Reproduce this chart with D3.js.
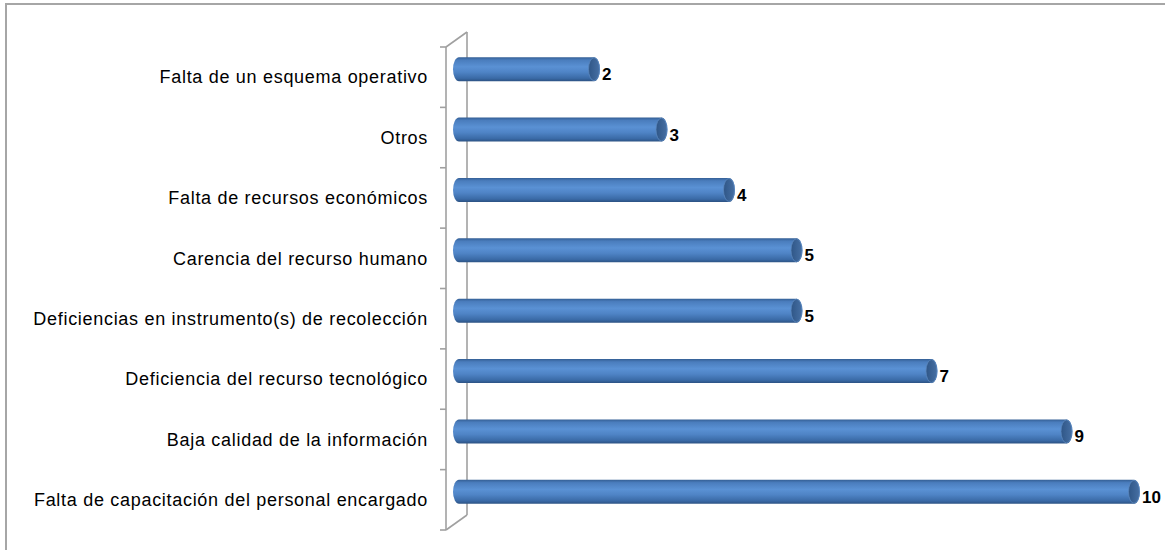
<!DOCTYPE html>
<meta charset="utf-8">
<head>
  <script type="text/javascript" src="https://cdn.jsdelivr.net/npm/d3@7/dist/d3.min.js"></script>
</head>
<style type="text/css">
  body {
    margin: 0;
    background: #fff;
    font-family: "Liberation Sans", Arial, sans-serif;
  }
  .cat { font-size: 18px; letter-spacing: 0.7px; fill: #000; }
  .val { font-size: 17px; font-weight: bold; fill: #000; }
</style>
<body></body>
<script type="text/javascript">

var categories = [
  "Falta de un esquema operativo",
  "Otros",
  "Falta de recursos económicos",
  "Carencia del recurso humano",
  "Deficiencias en instrumento(s) de recolección",
  "Deficiencia del recurso tecnológico",
  "Baja calidad de la información",
  "Falta de capacitación del personal encargado"
];
var values = [2, 3, 4, 5, 5, 7, 9, 10];

var width = 1165,
    height = 550;

var svg = d3.select("body").append("svg")
    .attr("width", width)
    .attr("height", height);

// outer chart frame (runs off the right and bottom edge)
svg.append("rect")
    .attr("x", 6).attr("y", 4)
    .attr("width", width + 10).attr("height", height + 10)
    .attr("fill", "none")
    .attr("stroke", "#a6a6a6")
    .attr("stroke-width", 2);

var defs = svg.append("defs");
var grad = defs.append("linearGradient")
    .attr("id", "cyl")
    .attr("x1", 0).attr("y1", 0).attr("x2", 0).attr("y2", 1);
grad.append("stop").attr("offset", "0%").attr("stop-color", "#345f95");
grad.append("stop").attr("offset", "12%").attr("stop-color", "#4a7dbd");
grad.append("stop").attr("offset", "40%").attr("stop-color", "#5a91d4");
grad.append("stop").attr("offset", "62%").attr("stop-color", "#4f84c6");
grad.append("stop").attr("offset", "88%").attr("stop-color", "#3a6aa6");
grad.append("stop").attr("offset", "100%").attr("stop-color", "#2c5283");

var capGrad = defs.append("linearGradient")
    .attr("id", "cap")
    .attr("x1", 0).attr("y1", 0).attr("x2", 1).attr("y2", 0);
capGrad.append("stop").attr("offset", "0%").attr("stop-color", "#2f5687");
capGrad.append("stop").attr("offset", "100%").attr("stop-color", "#466fa3");

var x = d3.scaleLinear()
    .domain([0, 10])
    .range([459, 1134]);

var y = d3.scaleBand()
    .domain(categories)
    .range([47, 530]);

var depth = 21, rise = 15;

// 3d axis walls
var axisG = svg.append("g")
    .attr("stroke", "#a0a0a0")
    .attr("fill", "none")
    .attr("stroke-width", 1.6);

axisG.append("line")
    .attr("x1", 446).attr("x2", 446)
    .attr("y1", y.range()[0]).attr("y2", y.range()[1]);
axisG.append("line")
    .attr("x1", 446 + depth).attr("x2", 446 + depth)
    .attr("y1", y.range()[0] - rise).attr("y2", y.range()[1] - rise);
axisG.append("line")
    .attr("x1", 446).attr("x2", 446 + depth)
    .attr("y1", y.range()[0]).attr("y2", y.range()[0] - rise);
axisG.append("line")
    .attr("x1", 446).attr("x2", 446 + depth)
    .attr("y1", y.range()[1]).attr("y2", y.range()[1] - rise);

var tickPos = categories.map(function(d) { return y(d); }).concat([y.range()[1]]);
axisG.selectAll(".tick")
    .data(tickPos)
    .enter().append("line")
    .attr("x1", 440).attr("x2", 446)
    .attr("y1", function(d) { return d; })
    .attr("y2", function(d) { return d; });

// category labels
svg.selectAll(".cat")
    .data(categories)
    .enter().append("text")
    .attr("class", "cat")
    .attr("x", 428)
    .attr("y", function(d) { return y(d) + y.bandwidth() / 2; })
    .attr("dy", "0.35em")
    .attr("text-anchor", "end")
    .text(function(d) { return d; });

// cylinder bars
var barH = 24;
var bars = svg.selectAll(".bar")
    .data(values)
    .enter().append("g")
    .attr("class", "bar")
    .attr("transform", function(d, i) {
      return "translate(0," + (y(categories[i]) + y.bandwidth() / 2 - 8) + ")";
    });

bars.append("path")
    .attr("d", function(d) {
      var x0 = x(0), x1 = x(d), r = barH / 2, rx = 6;
      return "M" + x0 + "," + (-r) +
        " L" + x1 + "," + (-r) +
        " A" + rx + "," + r + " 0 0 1 " + x1 + "," + r +
        " L" + x0 + "," + r +
        " A" + rx + "," + r + " 0 0 1 " + x0 + "," + (-r) + "Z";
    })
    .attr("fill", "url(#cyl)");

bars.append("ellipse")
    .attr("cx", function(d) { return x(d); })
    .attr("cy", 0)
    .attr("rx", 5.5)
    .attr("ry", barH / 2 - 0.5)
    .attr("fill", "url(#cap)")
    .attr("stroke", "#5a86bd")
    .attr("stroke-width", 0.8);

bars.append("text")
    .attr("class", "val")
    .attr("x", function(d) { return x(d) + 8; })
    .attr("y", 5)
    .attr("dy", "0.35em")
    .text(function(d) { return d; });

</script>
</html>
